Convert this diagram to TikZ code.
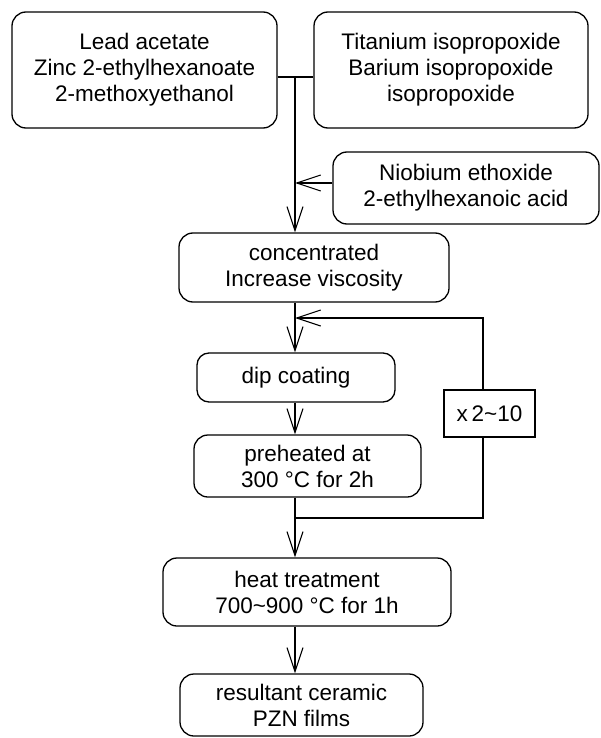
\documentclass[tikz,border=0pt]{standalone}
\usepackage{fontspec}
\setmainfont{Liberation Sans}
\usetikzlibrary{arrows.meta}
\begin{document}
\begin{tikzpicture}[x=1pt,y=-1pt,
  line width=1.3pt,
  txt/.style={font=\fontsize{22.5}{26}\selectfont, align=center, inner sep=0pt},
  rbox/.style={txt, draw, rounded corners=14pt},
  sbox/.style={txt, draw},
  arr/.style={-{Straight Barb[length=24pt,width=16pt,line width=1.1pt]}}]
\useasboundingbox (0,0) rectangle (601,738);
\node[rbox, minimum width=265pt, minimum height=116pt] (lead) at (144.5,70) {Lead acetate\\Zinc 2-ethylhexanoate\\2-methoxyethanol};
\node[rbox, minimum width=274pt, minimum height=116pt] (ti) at (451,70) {Titanium isopropoxide\\Barium isopropoxide\\isopropoxide};
\node[rbox, minimum width=266pt, minimum height=72pt] (nb) at (466,188) {Niobium ethoxide\\2-ethylhexanoic acid};
\node[rbox, minimum width=270pt, minimum height=69pt] (conc) at (314,267.5) {concentrated\\Increase viscosity};
\node[rbox, rounded corners=12pt, minimum width=198pt, minimum height=49pt] (dip) at (296,377.5) {dip coating};
\node[rbox, minimum width=227pt, minimum height=62pt] (pre) at (307.5,466) {preheated at\\300 °C for 2h};
\node[sbox, minimum width=91pt, minimum height=47pt] (rep) at (489.5,413.5) {x\,2\textasciitilde10};
\node[rbox, minimum width=288pt, minimum height=68pt] (heat) at (307,592) {heat treatment\\700\textasciitilde900 °C for 1h};
\node[rbox, minimum width=243pt, minimum height=62pt] (res) at (301.5,705) {resultant ceramic\\PZN films};
\coordinate (j1) at (295,77);
\coordinate (j2) at (295,183);
\coordinate (j3) at (295,318);
\coordinate (j4) at (295,518);
\coordinate (r1) at (483,318);
\coordinate (r2) at (483,518);
\draw (lead.east |- j1) -- (ti.west |- j1);
\draw[arr] (j1) -- (j1 |- conc.north);
\draw[arr] (nb.west |- j2) -- (j2);
\draw[arr] (j1 |- conc.south) -- (j1 |- dip.north);
\draw[arr] (r1 |- rep.north) -- (r1) -- (j3);
\draw[arr] (j1 |- dip.south) -- (j1 |- pre.north);
\draw[arr] (j1 |- pre.south) -- (j1 |- heat.north);
\draw (j4) -- (r2) -- (r2 |- rep.south);
\draw[arr] (j1 |- heat.south) -- (j1 |- res.north);
\end{tikzpicture}
\end{document}
